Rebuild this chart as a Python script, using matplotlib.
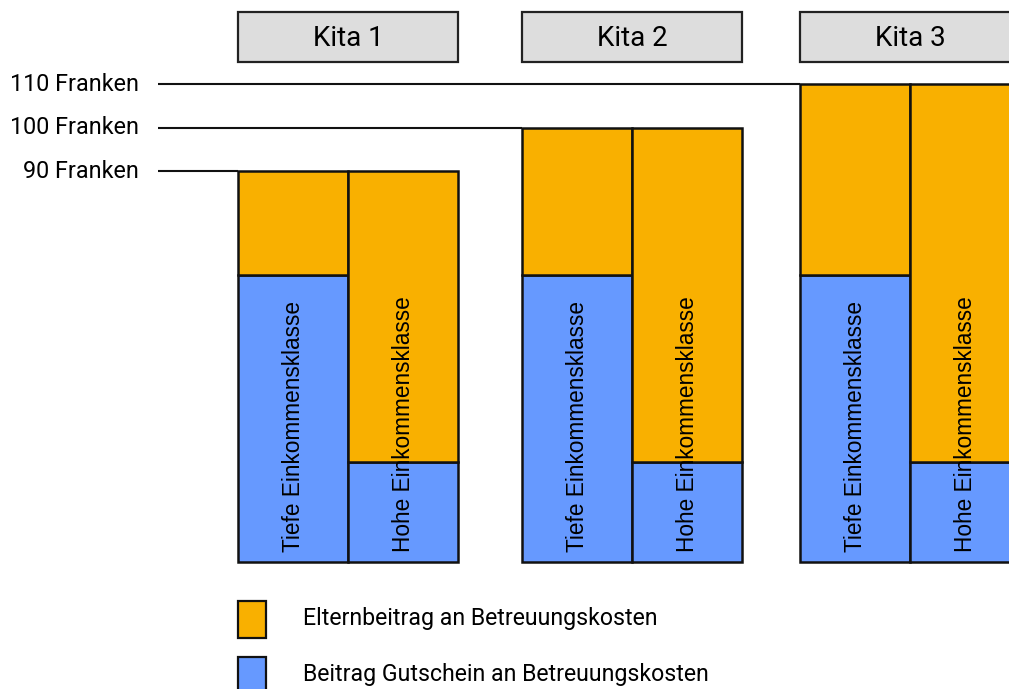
"""Kita-Betreuungskosten: Elternbeitrag und Gutschein je Einkommensklasse."""

import matplotlib.pyplot as plt
from matplotlib.patches import Rectangle

kitas = ["Kita 1", "Kita 2", "Kita 3"]
klassen = ["Tiefe Einkommensklasse", "Hohe Einkommensklasse"]
# Total care cost per Kita in Franken.
kosten_total = [90, 100, 110]
# Voucher contribution per income class (same for every Kita).
gutschein = [66, 23]
legend_labels = ["Elternbeitrag an Betreuungskosten",
                 "Beitrag Gutschein an Betreuungskosten"]

ORANGE = "#F9B000"
BLUE = "#6699FF"
HEADER_GREY = "#DDDDDD"
EDGE = "#111111"
NARROW = ["Roboto", "DejaVu Sans"]
ARIAL = ["Liberation Sans", "DejaVu Sans"]

# Layout in pixels (figure is 1009 x 689).
GROUP_LEFT = [238, 522, 800]
BAR_W = 110
LINE_START = 158

fig = plt.figure(figsize=(10.09, 6.89), dpi=100)

# Main axes: x in pixels, y in Franken.
ax = fig.add_axes([0, 0, 1, 1])
ax.set_xlim(0, 1009)
ax.set_ylim(-29.2, 129.4)
ax.axis("off")

for i, total in enumerate(kosten_total):
    left = GROUP_LEFT[i]
    ax.hlines(total, LINE_START, left, color=EDGE, lw=1.5, zorder=1)
    ax.text(139, total, f"{total} Franken", ha="right", va="center",
            fontsize=16.8, family=NARROW)
    for j, klasse in enumerate(klassen):
        x = left + j * BAR_W
        ax.bar(x, gutschein[j], width=BAR_W, align="edge", color=BLUE,
               edgecolor=EDGE, lw=1.8, zorder=2)
        ax.bar(x, total - gutschein[j], bottom=gutschein[j], width=BAR_W,
               align="edge", color=ORANGE, edgecolor=EDGE, lw=1.8, zorder=2)
        ax.text(x + BAR_W / 2, 2.3, klasse, rotation=90, ha="center",
                va="bottom", fontsize=16.3, family=ARIAL, zorder=3)

# Overlay axes in pixel units for the headers and the legend.
lay = fig.add_axes([0, 0, 1, 1])
lay.set_xlim(0, 1009)
lay.set_ylim(689, 0)
lay.axis("off")

for i, kita in enumerate(kitas):
    left = GROUP_LEFT[i]
    lay.add_patch(Rectangle((left, 12), 2 * BAR_W, 50, facecolor=HEADER_GREY,
                            edgecolor="#222222", lw=1.6))
    lay.text(left + BAR_W, 38, kita, ha="center", va="center",
             fontsize=20, family=NARROW)

for k, (label, color) in enumerate(zip(legend_labels, [ORANGE, BLUE])):
    y0 = 601 + k * 56
    lay.add_patch(Rectangle((238, y0), 28, 37, facecolor=color,
                            edgecolor=EDGE, lw=1.6))
    lay.text(303, y0 + 18, label, ha="left", va="center",
             fontsize=16.7, family=NARROW)

fig.savefig("out.png", dpi=100)
